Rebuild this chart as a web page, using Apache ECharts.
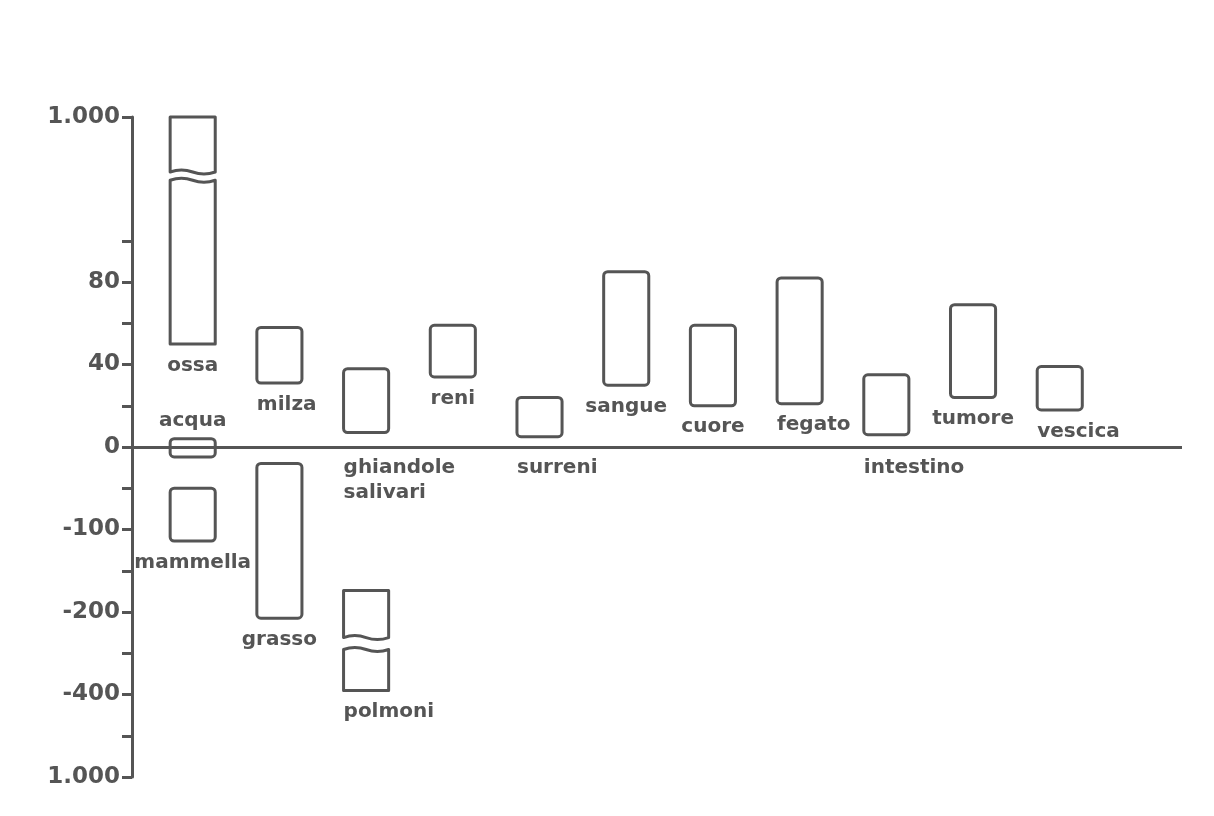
<!DOCTYPE html>
<html lang="it">
<head>
    <meta charset="UTF-8">
    <title>Densità dei tessuti</title>
    <script src="https://cdn.jsdelivr.net/npm/echarts@6/dist/echarts.min.js"></script>
    <style>
        html, body { margin: 0; padding: 0; background: #fff; }
        #chartmain { width: 1214px; height: 816px; }
    </style>
</head>
<body>
<div id="chartmain"></div>
<script type="text/javascript">
    // tessuti: colonna nel grafico e intervallo di densità (unità Hounsfield)
    var organNames = ['ossa', 'acqua', 'mammella', 'grasso', 'milza', 'ghiandole\nsalivari', 'polmoni',
        'reni', 'surreni', 'sangue', 'cuore', 'fegato', 'intestino', 'tumore', 'vescica'];
    var organColumn = [0, 0, 0, 1, 1, 2, 2, 3, 4, 5, 6, 7, 8, 9, 10];
    var lowHU  = [50, -12, -114, -215, 31, 7, -390, 34, 5, 30, 20, 21, 6, 24, 18];
    var highHU = [1000, 4, -50, -20, 58, 38, -174, 59, 24, 85, 59, 82, 35, 69, 39];
    // barre interrotte (null = nessuna interruzione)
    var gapLowHU  = [540, null, null, null, null, null, -291, null, null, null, null, null, null, null, null];
    var gapHighHU = [600, null, null, null, null, null, -262, null, null, null, null, null, null, null, null];

    // scala dell'asse (non lineare)
    var scaleHU   = [-1000, -400, -200, -100, 0, 40, 80, 100, 1000];
    var scaleStep = [0, 1, 2, 3, 4, 5, 6, 6.5, 8];
    var labelHU    = [-1000, -400, -200, -100, 0, 40, 80, 1000];
    var tickLabels = ['1.000', '-400', '-200', '-100', '0', '40', '80', '1.000'];
    var minorHU    = [-700, -300, -150, -50, 20, 60, 100];

    // dove va il nome: sotto la barra, sopra, o sotto la linea dello zero
    var labelPlace = ['below', 'above', 'below', 'below', 'below', 'axis', 'below',
        'below', 'axis', 'below', 'below', 'below', 'axis', 'below', 'below'];
    var labelAlign = ['center', 'center', 'center', 'center', 'left', 'left', 'left',
        'center', 'left', 'center', 'center', 'left', 'left', 'center', 'left'];

    var ink = '#555';
    var boxWidth = 0.52;

    function toStep(v) {
        for (var k = 1; k < scaleHU.length; k++) {
            if (v <= scaleHU[k]) {
                var t = (v - scaleHU[k - 1]) / (scaleHU[k] - scaleHU[k - 1]);
                return scaleStep[k - 1] + t * (scaleStep[k] - scaleStep[k - 1]);
            }
        }
        return scaleStep[scaleStep.length - 1];
    }

    var boxData = [];
    var labelData = [];
    for (var i = 0; i < organNames.length; i++) {
        if (gapLowHU[i] === null) {
            boxData.push([organColumn[i], toStep(lowHU[i]), toStep(highHU[i]), 0, 0]);
        } else {
            boxData.push([organColumn[i], toStep(lowHU[i]), toStep(gapLowHU[i]), 1, 0]);
            boxData.push([organColumn[i], toStep(gapHighHU[i]), toStep(highHU[i]), 0, 1]);
        }
        labelData.push([organColumn[i], toStep(lowHU[i]), toStep(highHU[i]), i]);
    }

    var labelSteps = labelHU.map(toStep);
    var tickSteps = labelHU.concat(minorHU).map(toStep);

    function renderBox(params, api) {
        var x = api.value(0);
        var pLo = api.coord([x, api.value(1)]);
        var pHi = api.coord([x, api.value(2)]);
        var half = api.size([boxWidth, 0])[0] / 2;
        var xl = pLo[0] - half, xr = pLo[0] + half;
        var yt = pHi[1], yb = pLo[1];
        var style = { fill: 'none', stroke: ink, lineWidth: 3, lineJoin: 'round' };
        if (!api.value(3) && !api.value(4)) {
            return { type: 'rect', shape: { x: xl, y: yt, width: xr - xl, height: yb - yt, r: 4 }, style: style };
        }
        var w = xr - xl, a = 4;
        var d = 'M' + xl + ' ' + yt;
        if (api.value(3)) {
            d += ' Q' + (xl + w / 4) + ' ' + (yt - a) + ' ' + (xl + w / 2) + ' ' + yt +
                ' Q' + (xl + 3 * w / 4) + ' ' + (yt + a) + ' ' + xr + ' ' + yt;
        } else {
            d += ' L' + xr + ' ' + yt;
        }
        d += ' L' + xr + ' ' + yb;
        if (api.value(4)) {
            d += ' Q' + (xr - w / 4) + ' ' + (yb + a) + ' ' + (xr - w / 2) + ' ' + yb +
                ' Q' + (xr - 3 * w / 4) + ' ' + (yb - a) + ' ' + xl + ' ' + yb;
        } else {
            d += ' L' + xl + ' ' + yb;
        }
        d += ' Z';
        return { type: 'path', shape: { pathData: d }, style: style };
    }

    function renderLabel(params, api) {
        var i = api.value(3);
        var x = api.value(0);
        var pLo = api.coord([x, api.value(1)]);
        var pHi = api.coord([x, api.value(2)]);
        var half = api.size([boxWidth, 0])[0] / 2;
        var zeroY = api.coord([x, toStep(0)])[1];
        var y, va;
        if (labelPlace[i] === 'above') { y = pHi[1] - 5; va = 'bottom'; }
        else if (labelPlace[i] === 'axis') { y = zeroY + 8; va = 'top'; }
        else { y = pLo[1] + 9; va = 'top'; }
        var tx = labelAlign[i] === 'left' ? pLo[0] - half : pLo[0];
        return {
            type: 'text',
            style: {
                text: organNames[i], x: tx, y: y,
                align: labelAlign[i], verticalAlign: va,
                fill: ink, fontSize: 20, fontWeight: 'bold',
                fontFamily: 'DejaVu Sans', lineHeight: 25
            }
        };
    }

    var myChart = echarts.init(document.getElementById('chartmain'));
    var option = {
        backgroundColor: '#fff',
        animation: false,
        grid: { left: 132, right: 32, top: 117, bottom: 39 },
        xAxis: { type: 'value', min: -0.7, max: 11.41, show: false },
        yAxis: {
            type: 'value', min: 0, max: 8,
            axisLine: { show: true, onZero: false, lineStyle: { color: ink, width: 3 } },
            axisTick: { show: true, length: 10, lineStyle: { color: ink, width: 3 }, customValues: tickSteps },
            axisLabel: {
                customValues: labelSteps, margin: 12,
                color: ink, fontSize: 23, fontWeight: 'bold', fontFamily: 'DejaVu Sans',
                formatter: function (v) {
                    for (var k = 0; k < labelSteps.length; k++) {
                        if (Math.abs(labelSteps[k] - v) < 1e-6) return tickLabels[k];
                    }
                    return '';
                }
            },
            splitLine: { show: false }
        },
        series: [{
            type: 'custom',
            renderItem: renderBox,
            data: boxData,
            silent: true,
            markLine: {
                symbol: 'none', silent: true, label: { show: false },
                lineStyle: { color: ink, width: 3, type: 'solid' },
                data: [{ yAxis: toStep(0) }]
            }
        }, {
            type: 'custom',
            renderItem: renderLabel,
            data: labelData,
            silent: true
        }]
    };
    myChart.setOption(option);
</script>
</body>
</html>
